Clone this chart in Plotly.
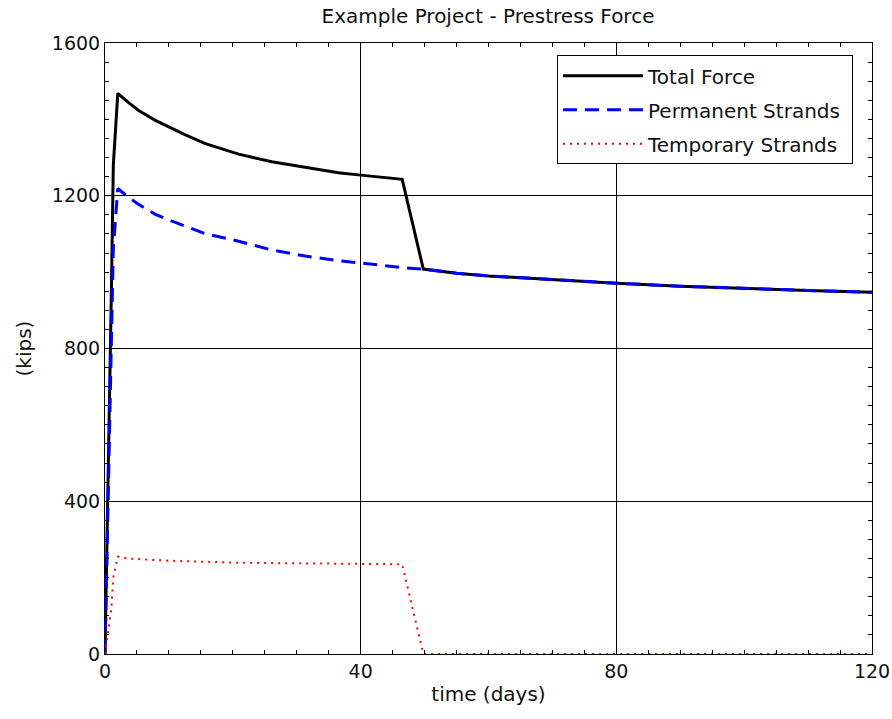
import plotly.graph_objects as go

# time (days)
time_days = [0, 0.5, 1, 1.3, 2, 3.6, 5.2, 7.8, 10.4, 12.5, 15.6, 20.9, 26.1, 31.3, 36.5,
             40, 46.5, 49.8, 55, 60, 70, 80, 90, 100, 110, 120]
total_force = [0, 450, 950, 1280, 1468, 1445, 1424, 1398, 1376, 1360, 1337, 1309, 1289,
               1274, 1260, 1254, 1243, 1008, 997, 990, 980, 971, 963, 957, 952, 947]
permanent = [0, 400, 850, 1060, 1219, 1197, 1178, 1152, 1134, 1121, 1101, 1081, 1058,
             1042, 1030, 1024, 1012, 1008, 997, 990, 980, 971, 963, 957, 952, 947]
temporary = [0, 60, 120, 200, 255, 250, 248, 246, 244, 243, 241, 239, 238,
             237, 236, 236, 235, 0, 0, 0, 0, 0, 0, 0, 0, 0]

x_ticks = [0, 40, 80, 120]
y_ticks = [0, 400, 800, 1200, 1600]

FONT = "DejaVu Sans"
TXT = "#111"

fig = go.Figure()
fig.add_trace(go.Scatter(x=time_days, y=total_force, mode="lines", name="Total Force\u00a0",
                         legendgroup="a",
                         line=dict(color="black", width=3)))
fig.add_trace(go.Scatter(x=time_days, y=permanent, mode="lines", name="Permanent Strands\u00a0",
                         legendgroup="b",
                         line=dict(color="#0000ff", width=3, dash="14px,8px")))
fig.add_trace(go.Scatter(x=time_days, y=temporary, mode="lines", name="Temporary Strands\u00a0",
                         legendgroup="c",
                         line=dict(color="#ff0000", width=2, dash="2px,5px")))

axis_common = dict(
    showline=True, linecolor="black", linewidth=1, mirror="allticks",
    showgrid=True, gridcolor="black", gridwidth=1, zeroline=False,
    ticks="inside", ticklen=6, tickcolor="black", automargin=False,
    tickfont=dict(family=FONT, size=19, color=TXT),
)

fig.update_xaxes(range=[0, 120], tickvals=x_ticks, ticktext=[str(v) for v in x_ticks],
                 minor=dict(dtick=5, ticks="inside", ticklen=4, tickcolor="black", showgrid=False),
                 title=dict(text="time (days)", font=dict(family=FONT, size=20, color=TXT), standoff=6),
                 **axis_common)
fig.update_yaxes(range=[0, 1600], tickvals=y_ticks, ticktext=[str(v) for v in y_ticks],
                 minor=dict(dtick=50, ticks="inside", ticklen=4, tickcolor="black", showgrid=False),
                 title=dict(text="(kips)", font=dict(family=FONT, size=20, color=TXT), standoff=14),
                 **axis_common)

fig.update_layout(
    width=892, height=719,
    margin=dict(l=105, r=20, t=43, b=65),
    paper_bgcolor="white", plot_bgcolor="white",
    title=dict(text="Example Project - Prestress Force", x=488 / 892, xanchor="center",
               y=1 - 16 / 719, yanchor="middle", yref="container",
               font=dict(family=FONT, size=20, color=TXT)),
    legend=dict(x=(557 - 105) / 767, y=0.98, xanchor="left", yanchor="top",
                bordercolor="black", borderwidth=1, bgcolor="white",
                font=dict(family=FONT, size=20, color=TXT),
                itemwidth=80, tracegroupgap=5, traceorder="grouped"),
    showlegend=True,
)

fig.write_html("out.html")
